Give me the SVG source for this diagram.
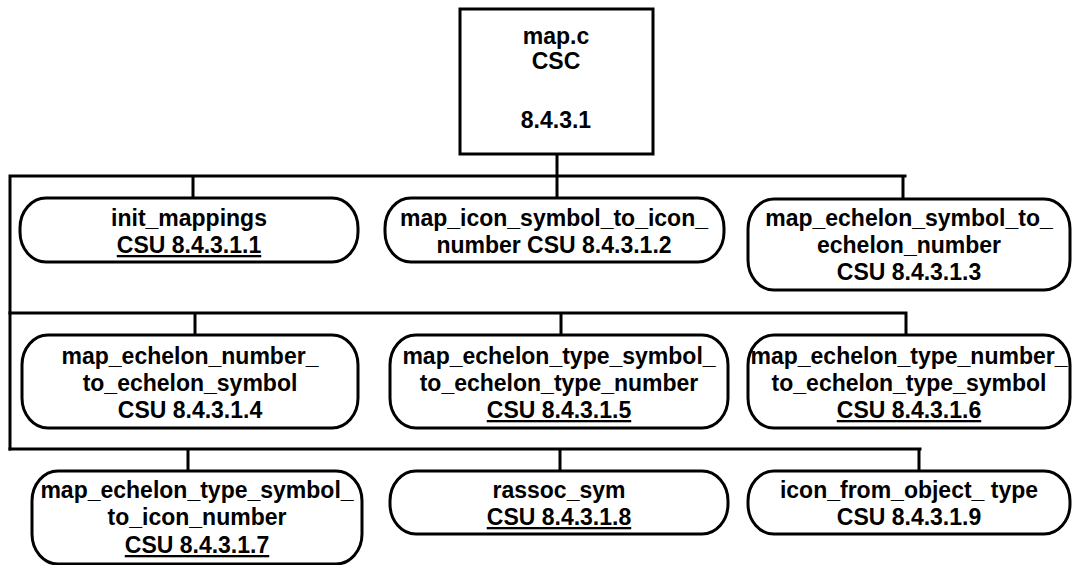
<svg xmlns="http://www.w3.org/2000/svg" width="1074" height="565" viewBox="0 0 1074 565">
<style>
.box{fill:#fff;stroke:#000;stroke-width:3}
.node{fill:#fff;stroke:#000;stroke-width:3}
.conn{fill:none;stroke:#000;stroke-width:3;stroke-linecap:square}
text{font-family:"Liberation Sans",Arial,Helvetica,sans-serif;font-weight:bold;font-size:23px;fill:#000;text-anchor:middle}
.u{text-decoration:underline}
</style>
<rect width="1074" height="565" fill="#fff"/>
<g id="connectors">
<path class="conn" d="M557 154 V176 M10 176 H905 M10 176 V449 M193 176 V198 M557 176 V198 M903 176 V199"/>
<path class="conn" d="M10 313 H906 M195 313 V335 M561 313 V335 M906 313 V335"/>
<path class="conn" d="M10 449 H920 M188 449 V471 M560 449 V471 M919 449 V471"/>
</g>
<g id="csc">
<rect class="box" x="460" y="9" width="193" height="145"/>
<text x="556" y="44">map.c</text>
<text x="556" y="69">CSC</text>
<text x="556" y="128">8.4.3.1</text>
</g>
<g id="n1">
<rect class="node" x="20" y="198" width="338" height="64" rx="26" ry="30"/>
<text x="189" y="226">init_mappings</text>
<text x="189" y="253" class="u">CSU 8.4.3.1.1</text>
</g>
<g id="n2">
<rect class="node" x="385" y="198" width="339" height="64" rx="26" ry="30"/>
<text x="554" y="226">map_icon_symbol_to_icon_</text>
<text x="554" y="253">number CSU 8.4.3.1.2</text>
</g>
<g id="n3">
<rect class="node" x="748" y="199" width="322" height="91" rx="26" ry="30"/>
<text x="909" y="226">map_echelon_symbol_to_</text>
<text x="909" y="253">echelon_number</text>
<text x="909" y="280">CSU 8.4.3.1.3</text>
</g>
<g id="n4">
<rect class="node" x="22" y="335" width="336" height="93" rx="26" ry="30"/>
<text x="190" y="364">map_echelon_number_</text>
<text x="190" y="391">to_echelon_symbol</text>
<text x="190" y="418">CSU 8.4.3.1.4</text>
</g>
<g id="n5">
<rect class="node" x="390" y="335" width="338" height="93" rx="26" ry="30"/>
<text x="559" y="364">map_echelon_type_symbol_</text>
<text x="559" y="391">to_echelon_type_number</text>
<text x="559" y="418" class="u">CSU 8.4.3.1.5</text>
</g>
<g id="n6">
<rect class="node" x="748" y="335" width="322" height="93" rx="26" ry="30"/>
<text x="909" y="364">map_echelon_type_number_</text>
<text x="909" y="391">to_echelon_type_symbol</text>
<text x="909" y="418" class="u">CSU 8.4.3.1.6</text>
</g>
<g id="n7">
<rect class="node" x="32" y="471" width="330" height="93" rx="26" ry="30"/>
<text x="197" y="498">map_echelon_type_symbol_</text>
<text x="197" y="525">to_icon_number</text>
<text x="197" y="553" class="u">CSU 8.4.3.1.7</text>
</g>
<g id="n8">
<rect class="node" x="390" y="471" width="338" height="63" rx="26" ry="30"/>
<text x="559" y="498">rassoc_sym</text>
<text x="559" y="525" class="u">CSU 8.4.3.1.8</text>
</g>
<g id="n9">
<rect class="node" x="748" y="471" width="322" height="63" rx="26" ry="30"/>
<text x="909" y="498">icon_from_object_ type</text>
<text x="909" y="525">CSU 8.4.3.1.9</text>
</g>
</svg>
